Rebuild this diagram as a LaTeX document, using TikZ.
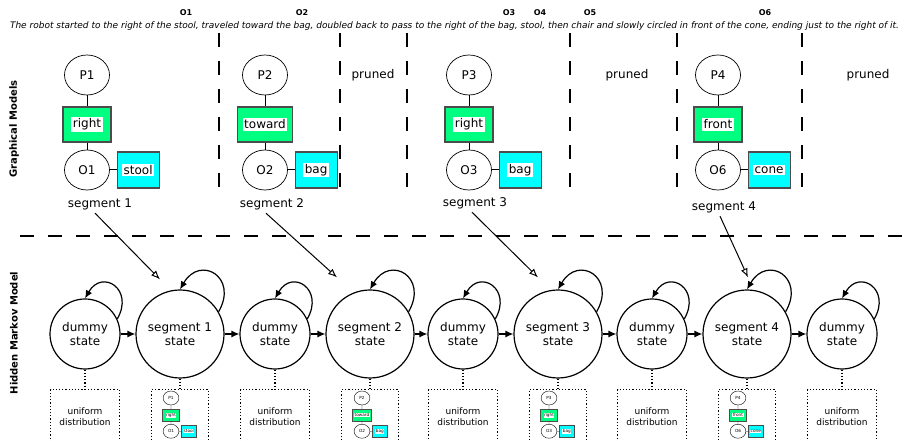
\documentclass[tikz,border=0pt]{standalone}
\usepackage{fontspec}
\setmainfont{DejaVu Sans}
\usetikzlibrary{arrows.meta,positioning,shapes.geometric}
\definecolor{actgreen}{RGB}{0,255,128}
\definecolor{objcyan}{RGB}{0,255,255}
\newcommand{\wbox}[1]{{\setlength{\fboxsep}{1.5pt}\colorbox{white}{#1}}}
% one graphical model: name, P, action, O, object
\newcommand{\gmodel}[5]{
  \node[pnode] (#1p) at (0,0) {#2};
  \node[act] (#1a) at (0,-49.5) {\wbox{#3}};
  \node[pnode] (#1o) at (0,-95) {#4};
  \node[obj,anchor=west] (#1b) at (29.5,-95) {\wbox{#5}};
  \draw[gmline] (#1p) -- (#1a);
  \draw[gmline] (#1a) -- (#1o);
  \draw[gmline] (#1o) -- (#1b);
}

\begin{document}
\begin{tikzpicture}[
  x=1pt, y=1pt,
  font=\fontsize{12}{14}\selectfont,
  >={Latex[length=8pt,width=7pt]},
  pnode/.style={
    draw,
    ellipse,
    minimum width=45pt,
    minimum height=40pt,
    inner sep=0pt,
    line width=0.7pt
  },
  act/.style={
    draw=black!70,
    fill=actgreen,
    line width=1.2pt,
    minimum width=48pt,
    minimum height=35pt,
    inner xsep=5pt
  },
  obj/.style={act, fill=objcyan, minimum width=42pt, minimum height=36pt},
  gmline/.style={line width=1pt},
  sep/.style={dash pattern=on 14pt off 14pt, line width=1.3pt},
  dummy/.style={
    draw,
    circle,
    align=center,
    line width=1.2pt,
    minimum size=70pt,
    inner sep=0pt,
    font=\fontsize{12}{14}\selectfont
  },
  segstate/.style={dummy, minimum size=88pt},
  emit/.style={
    draw,
    dotted,
    line width=1.2pt,
    anchor=north,
    align=center,
    minimum height=54pt,
    font=\fontsize{9}{11}\selectfont
  },
  tie/.style={dotted, line width=1.2pt},
  trans/.style={->, line width=1.2pt},
  selfloop/.style={->, line width=1.2pt, out=60, in=60, looseness=2.3},
  pick/.style={-{Latex[open,length=9pt,width=7pt]}, line width=1pt},
  side/.style={rotate=90, font=\fontsize{10}{12}\selectfont\bfseries},
  mini/.style={scale=0.35, transform shape,
    pnode/.append style={line width=0.4pt},
    act/.append style={line width=0.6pt},
    gmline/.style={line width=0.4pt}}
]
\useasboundingbox (0,0) rectangle (909,441);

% sentence and its observations
\node[font=\fontsize{9}{11}\selectfont\itshape] (sent) at (454.5,415) {The robot started to the right of the stool, traveled toward the bag, doubled back to pass to the right of the bag, stool, then chair and slowly circled in front of the cone, ending just to the right of it.};
\node[font=\fontsize{8}{10}\selectfont\bfseries] (ob1) at (186,428) {O1};
\node[font=\fontsize{8}{10}\selectfont\bfseries] (ob2) at (302,428) {O2};
\node[font=\fontsize{8}{10}\selectfont\bfseries] (ob3) at (509,428) {O3};
\node[font=\fontsize{8}{10}\selectfont\bfseries] (ob4) at (540,428) {O4};
\node[font=\fontsize{8}{10}\selectfont\bfseries] (ob5) at (590,428) {O5};
\node[font=\fontsize{8}{10}\selectfont\bfseries] (ob6) at (765,428) {O6};

% segment borders
\draw[sep] (219,408) -- (219,249);
\draw[sep] (340,408) -- (340,249);
\draw[sep] (407,408) -- (407,249);
\draw[sep] (570,408) -- (570,249);
\draw[sep] (677,408) -- (677,249);
\draw[sep] (802,408) -- (802,249);
\draw[sep] (20,205) -- (905,205);

\node[side] (gmtitle) at (14,312) {Graphical Models};
\node[side] (hmmtitle) at (14,108) {Hidden Markov Model};

% graphical models
\begin{scope}[shift={(87,366)}]
  \gmodel{g1}{P1}{right}{O1}{stool}
\end{scope}
\begin{scope}[shift={(265,366)}]
  \gmodel{g2}{P2}{toward}{O2}{bag}
\end{scope}
\begin{scope}[shift={(469,366)}]
  \gmodel{g3}{P3}{right}{O3}{bag}
\end{scope}
\begin{scope}[shift={(718,366)}]
  \gmodel{g4}{P4}{front}{O6}{cone}
\end{scope}
\node (l1) at (100,237) {segment 1};
\node (l2) at (272,237) {segment 2};
\node (l3) at (475,238) {segment 3};
\node (l4) at (724,234) {segment 4};
\node (pr1) at (373,366) {pruned};
\node (pr2) at (627,366) {pruned};
\node (pr3) at (868,366) {pruned};

% hidden markov model
\node[dummy] (d1) at (85,107) {dummy\\state};
\node[segstate] (s1) at (180,107) {segment 1\\state};
\node[dummy] (d2) at (275,107) {dummy\\state};
\node[segstate] (s2) at (370,107) {segment 2\\state};
\node[dummy] (d3) at (463,107) {dummy\\state};
\node[segstate] (s3) at (558,107) {segment 3\\state};
\node[dummy] (d4) at (652,107) {dummy\\state};
\node[segstate] (s4) at (747,107) {segment 4\\state};
\node[dummy] (d5) at (842,107) {dummy\\state};
\draw[trans] (d1) -- (s1);
\draw[trans] (s1) -- (d2);
\draw[trans] (d2) -- (s2);
\draw[trans] (s2) -- (d3);
\draw[trans] (d3) -- (s3);
\draw[trans] (s3) -- (d4);
\draw[trans] (d4) -- (s4);
\draw[trans] (s4) -- (d5);
\draw[selfloop] (d1.25) to (d1.north);
\draw[selfloop] (s1.30) to (s1.north);
\draw[selfloop] (d2.25) to (d2.north);
\draw[selfloop] (s2.30) to (s2.north);
\draw[selfloop] (d3.25) to (d3.north);
\draw[selfloop] (s3.30) to (s3.north);
\draw[selfloop] (d4.25) to (d4.north);
\draw[selfloop] (s4.30) to (s4.north);
\draw[selfloop] (d5.25) to (d5.north);

% segment to state
\coordinate (t1) at ([shift={(-20,10)}]s1.north);
\coordinate (t2) at ([shift={(-33,12)}]s2.north);
\coordinate (t3) at ([shift={(-20,12)}]s3.north);
\coordinate (t4) at ([shift={(1,12)}]s4.north);
\draw[pick] ([xshift=-5pt]l1.south) -- (t1);
\draw[pick] ([xshift=-6pt]l2.south) -- (t2);
\draw[pick] ([xshift=-3pt]l3.south) -- (t3);
\draw[pick] ([xshift=-4pt]l4.south) -- (t4);

% emissions
\node[emit, minimum width=69pt] (e1) at (85,52) {uniform\\distribution};
\node[emit, minimum width=57pt] (e2) at (180,52) {};
\node[emit, minimum width=69pt] (e3) at (275,52) {uniform\\distribution};
\node[emit, minimum width=57pt] (e4) at (370,52) {};
\node[emit, minimum width=69pt] (e5) at (463,52) {uniform\\distribution};
\node[emit, minimum width=57pt] (e6) at (558,52) {};
\node[emit, minimum width=69pt] (e7) at (652,52) {uniform\\distribution};
\node[emit, minimum width=57pt] (e8) at (747,52) {};
\node[emit, minimum width=69pt] (e9) at (842,52) {uniform\\distribution};
\draw[tie] (d1) -- (e1);
\draw[tie] (s1) -- (e2);
\draw[tie] (d2) -- (e3);
\draw[tie] (s2) -- (e4);
\draw[tie] (d3) -- (e5);
\draw[tie] (s3) -- (e6);
\draw[tie] (d4) -- (e7);
\draw[tie] (s4) -- (e8);
\draw[tie] (d5) -- (e9);
\begin{scope}[shift={(171,43)}, mini]
  \gmodel{m1}{P1}{right}{O1}{stool}
\end{scope}
\begin{scope}[shift={(362,43)}, mini]
  \gmodel{m2}{P2}{toward}{O2}{bag}
\end{scope}
\begin{scope}[shift={(549,43)}, mini]
  \gmodel{m3}{P3}{right}{O3}{bag}
\end{scope}
\begin{scope}[shift={(738,43)}, mini]
  \gmodel{m4}{P4}{front}{O6}{cone}
\end{scope}
\end{tikzpicture}
\end{document}
